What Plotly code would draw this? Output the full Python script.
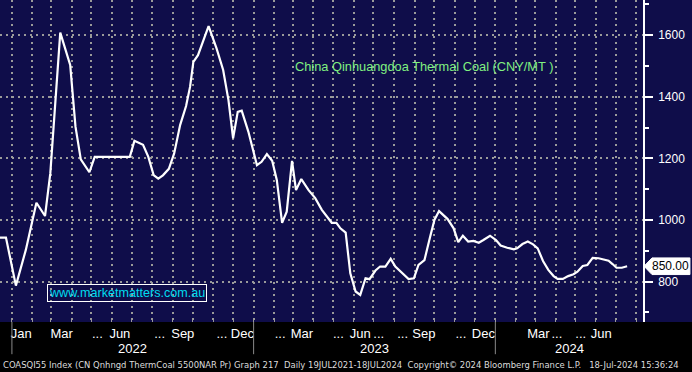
import plotly.graph_objects as go

dates = [
    "2021-12-06", "2021-12-23", "2022-01-07", "2022-01-22", "2022-02-07", "2022-02-20", "2022-02-28",
    "2022-03-15", "2022-03-30", "2022-04-07", "2022-04-15", "2022-04-28", "2022-05-06", "2022-05-27",
    "2022-06-28", "2022-07-05", "2022-07-18", "2022-07-26", "2022-08-03", "2022-08-10", "2022-08-17",
    "2022-08-26", "2022-09-03", "2022-09-12", "2022-09-21", "2022-09-27", "2022-10-02", "2022-10-09",
    "2022-10-25", "2022-11-06", "2022-11-16", "2022-11-24", "2022-12-01", "2022-12-08", "2022-12-14",
    "2022-12-24", "2023-01-06", "2023-01-13", "2023-01-21", "2023-01-29", "2023-02-05", "2023-02-13",
    "2023-02-20", "2023-02-28", "2023-03-06", "2023-03-14", "2023-03-25", "2023-04-04", "2023-04-14",
    "2023-04-29", "2023-05-06", "2023-05-12", "2023-05-20", "2023-05-27", "2023-06-04", "2023-06-11",
    "2023-06-19", "2023-06-25", "2023-07-04", "2023-07-11", "2023-07-19", "2023-07-27", "2023-08-03",
    "2023-08-23", "2023-08-31", "2023-09-07", "2023-09-16", "2023-09-24", "2023-10-01", "2023-10-08",
    "2023-10-21", "2023-10-30", "2023-11-06", "2023-11-13", "2023-11-21", "2023-11-29", "2023-12-07",
    "2023-12-14", "2023-12-24", "2024-01-02", "2024-01-09", "2024-01-19", "2024-01-29", "2024-02-03",
    "2024-02-11", "2024-02-19", "2024-02-27", "2024-03-05", "2024-03-13", "2024-03-21", "2024-03-29",
    "2024-04-04", "2024-04-12", "2024-04-20", "2024-04-28", "2024-05-04", "2024-05-12", "2024-05-19",
    "2024-05-27", "2024-06-05", "2024-06-12", "2024-06-20", "2024-06-26", "2024-07-02", "2024-07-10",
    "2024-07-18",
]
coal_price = [
    943, 943, 787, 903, 1056, 1013, 1152,
    1608, 1503, 1303, 1197, 1155, 1205, 1205,
    1205, 1257, 1244, 1205, 1146, 1134, 1145,
    1166, 1216, 1308, 1370, 1432, 1513, 1535,
    1629, 1557, 1487, 1389, 1265, 1351, 1355,
    1287, 1178, 1189, 1214, 1192, 1130, 991,
    1027, 1192, 1097, 1133, 1097, 1071, 1033,
    991, 991, 973, 959, 827, 768, 757,
    811, 808, 836, 849, 849, 874, 849,
    808, 811, 854, 870, 941, 1000, 1029,
    1003, 973, 928, 949, 930, 932, 926,
    935, 949, 935, 917, 910, 905, 908,
    922, 930, 921, 908, 867, 838, 818,
    809, 809, 818, 824, 832, 851, 854,
    877, 876, 873, 868, 857, 845, 845,
    850,
]

month_label_dates = [
    "2022-01-15", "2022-03-17", "2022-05-10", "2022-06-13", "2022-08-12", "2022-09-16", "2022-11-14",
    "2022-12-15", "2023-02-10", "2023-03-15", "2023-05-09", "2023-06-11", "2023-07-09", "2023-08-14",
    "2023-09-15", "2023-11-10", "2023-12-14", "2024-03-06", "2024-04-03", "2024-05-09", "2024-06-09",
]
month_labels = [
    "Jan", "Mar", "...", "Jun", "...", "Sep", "...",
    "Dec", "...", "Mar", "...", "Jun", "...", "...",
    "Sep", "...", "Dec", "Mar", "...", "...", "Jun",
]
year_labels = ["2022", "2023", "2024"]
year_label_dates = ["2022-07-02", "2023-07-02", "2024-04-22"]
year_start_dates = ["2022-01-01", "2023-01-01", "2024-01-01"]
y_ticks = [800, 1000, 1200, 1400, 1600]
last_value = 850.00

NAVY = "#0f0d4a"
GRID = "#9a9a9a"
FONT = "Liberation Sans"

fig = go.Figure()
fig.add_trace(go.Scatter(
    x=dates, y=coal_price, mode="lines",
    line=dict(color="white", width=2.2),
    hoverinfo="skip", showlegend=False,
))

fig.update_layout(
    width=692, height=372,
    margin=dict(l=0, r=49, t=0, b=50),
    paper_bgcolor="black",
    plot_bgcolor=NAVY,
    showlegend=False,
    font=dict(family=FONT, color="white", size=13),
)

fig.update_xaxes(
    type="date",
    range=["2021-12-14", "2024-08-11"],
    tickmode="array", tickvals=month_label_dates, ticktext=month_labels,
    tickangle=0,
    ticks="", showgrid=False, zeroline=False, showline=False,
    tickfont=dict(family=FONT, size=13, color="white"),
    ticklabelstandoff=2,
    minor=dict(
        dtick="M1", tick0="2022-01-01",
        showgrid=True, gridcolor=GRID, gridwidth=2, griddash="2px,4px",
        ticks="inside", ticklen=4, tickcolor=GRID,
    ),
)

fig.update_yaxes(
    side="right",
    range=[669, 1714],
    tickmode="array", tickvals=y_ticks,
    showgrid=True, gridcolor=GRID, gridwidth=2, griddash="2px,4px",
    zeroline=False,
    showline=True, linecolor="white", linewidth=1.5,
    ticks="outside", ticklen=8, tickwidth=2, tickcolor="white",
    tickfont=dict(family=FONT, size=12, color="white"),
    ticklabelstandoff=3,
    minor=dict(dtick=100, tick0=0, ticks="outside", ticklen=4, tickcolor="white", showgrid=False),
)

# navy right-axis panel
fig.add_shape(type="rect", xref="paper", yref="paper", x0=1, x1=1.08, y0=0, y1=1,
              fillcolor=NAVY, line=dict(width=0), layer="below")

# year separators
for d in year_start_dates:
    fig.add_shape(type="line", xref="x", yref="paper", x0=d, x1=d, y0=0, y1=-0.1,
                  line=dict(color="#8a8a8a", width=1))

for lbl, d in zip(year_labels, year_label_dates):
    fig.add_annotation(x=d, y=-0.081, xref="x", yref="paper", text=lbl, showarrow=False,
                       font=dict(family=FONT, size=13, color="white"), yanchor="middle")

# last value tag
fig.add_shape(type="path", xref="paper", yref="y",
              path="M 1.0016,%f L 1.014,%f L 1.073,%f L 1.073,%f L 1.014,%f Z" % (
                  last_value, last_value + 27, last_value + 27, last_value - 27, last_value - 27),
              fillcolor="white", line=dict(color="white", width=1))
fig.add_annotation(x=1.0435, y=last_value, xref="paper", yref="y", text="%.2f" % last_value,
                   showarrow=False, font=dict(family=FONT, size=12, color="black"),
                   xanchor="center", yanchor="middle")

# title
fig.add_annotation(x=0.66, y=0.792, xref="paper", yref="paper",
                   text="China Qinhuangdoa Thermal Coal (CNY/MT )", showarrow=False,
                   font=dict(family=FONT, size=12.8, color="#80f080"),
                   xanchor="center", yanchor="middle")

# watermark
fig.add_annotation(x=0.198, y=0.09, xref="paper", yref="paper",
                   text="www.marketmatters.com.au", showarrow=False,
                   font=dict(family=FONT, size=12.6, color="#00dcef"),
                   bordercolor="white", borderwidth=1, borderpad=1,
                   xanchor="center", yanchor="middle")

# footer
fig.add_annotation(x=0.002, y=-0.1335, xref="paper", yref="paper",
                   text="COASQI55 Index (CN Qnhngd ThermCoal 5500NAR Pr) Graph 217  Daily 19JUL2021-18JUL2024  "
                        "Copyright\u00a9 2024 Bloomberg Finance L.P.   18-Jul-2024 15:36:24",
                   showarrow=False,
                   font=dict(family="DejaVu Sans Condensed, Liberation Sans", size=9.4, color="#dcdcdc"),
                   xanchor="left", yanchor="middle")

fig.write_html(
    "out.html",
    config={"displayModeBar": False},
    post_script="document.body.style.margin='0';document.body.style.padding='0';"
                "document.body.style.overflow='hidden';",
)
